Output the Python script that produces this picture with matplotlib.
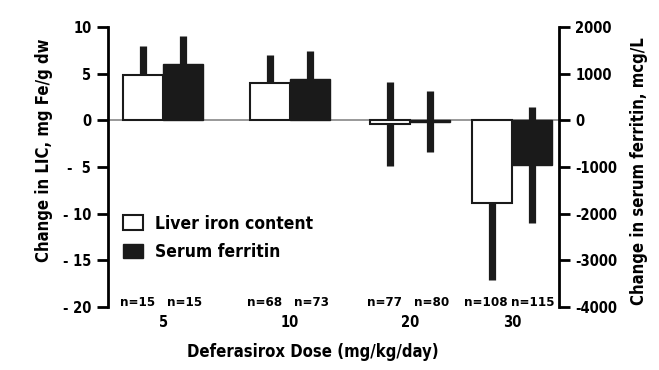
import matplotlib
matplotlib.use('Agg')
import matplotlib.pyplot as plt
from matplotlib.patches import Patch

plt.rcParams['font.family'] = ['DejaVu Sans']
plt.rcParams['font.stretch'] = 'condensed'
plt.rcParams['font.weight'] = 'bold'
plt.rcParams['axes.labelweight'] = 'bold'

# data
doses = ['5', '10', '20', '30']
n_lic = [15, 68, 77, 108]
n_sf = [15, 73, 80, 115]
lic_mean = [4.9, 4.0, -0.4, -8.9]
lic_sd = [3.1, 3.0, 4.5, 8.2]
sf_mean = [1210, 880, -30, -960]
sf_sd = [600, 600, 650, 1250]

left_ticks = [10, 5, 0, -5, -10, -15, -20]
left_ticklabels = ['10', '5', '0', '-  5', '- 10', '- 15', '- 20']
right_ticks = [2000, 1000, 0, -1000, -2000, -3000, -4000]
right_ticklabels = ['2000', '1000', '0', '-1000', '-2000', '-3000', '-4000']

# group centres are not evenly spaced in the original
centers = [0, 1, 1.95, 2.75]
w = 0.316
x_lic = [c - w / 2 for c in centers]
x_sf = [c + w / 2 for c in centers]

fig = plt.figure(figsize=(6.59, 3.70), dpi=100)
ax = fig.add_axes([0.1639, 0.1703, 0.6839, 0.7568])
ax2 = ax.twinx()

ax.set_xlim(-0.436, 3.12)
ax.set_ylim(-20, 10)
ax2.set_ylim(-4000, 2000)

ax.axhline(0, color='#888888', lw=1.2, zorder=1)

ax.errorbar(x_lic, lic_mean, yerr=lic_sd, fmt='none', ecolor='#1a1a1a',
            elinewidth=5.2, capsize=0, zorder=2)
ax.bar(x_lic, lic_mean, w, color='white', edgecolor='#1a1a1a', lw=1.5, zorder=3)

ax2.errorbar(x_sf, sf_mean, yerr=sf_sd, fmt='none', ecolor='#1a1a1a',
             elinewidth=5.2, capsize=0, zorder=2)
ax2.bar(x_sf, sf_mean, w, color='#1a1a1a', edgecolor='#1a1a1a', lw=1.0, zorder=3)

for s in ['top', 'bottom', 'right']:
    ax.spines[s].set_visible(False)
for s in ['top', 'bottom', 'left']:
    ax2.spines[s].set_visible(False)
ax.spines['left'].set_linewidth(2)
ax2.spines['right'].set_linewidth(2)
ax.spines['left'].set_bounds(-20, 10)
ax2.spines['right'].set_bounds(-4000, 2000)

ax.set_yticks(left_ticks)
ax.set_yticklabels(left_ticklabels)
ax2.set_yticks(right_ticks)
ax2.set_yticklabels(right_ticklabels)
ax.tick_params(axis='y', length=8, width=2, labelsize=10.5, pad=4)
ax2.tick_params(axis='y', length=8, width=2, labelsize=10.5, pad=4)

ax.set_xticks(centers)
ax.set_xticklabels(doses)
ax.tick_params(axis='x', length=0, labelsize=10.5, pad=6)

for i in range(len(doses)):
    ax.text(x_lic[i] - 0.045, -19.55, f'n={n_lic[i]}', ha='center', va='center', fontsize=9.5)
    ax.text(x_sf[i] + 0.01, -19.55, f'n={n_sf[i]}', ha='center', va='center', fontsize=9.5)

ax.set_xlabel('Deferasirox Dose (mg/kg/day)', fontsize=12)
ax.xaxis.set_label_coords(0.455, -0.13)
ax.set_ylabel('Change in LIC, mg Fe/g dw', fontsize=12)
ax.yaxis.set_label_coords(-0.122, 0.56)
ax2.set_ylabel('Change in serum ferritin, mcg/L', fontsize=12)
ax2.yaxis.set_label_coords(1.158, 0.486)

handles = [Patch(facecolor='white', edgecolor='#1a1a1a', lw=1.5, label='Liver iron content'),
           Patch(facecolor='#1a1a1a', edgecolor='#1a1a1a', label='Serum ferritin')]
ax2.legend(handles=handles, loc='upper left', bbox_to_anchor=(0.033, 0.33),
           frameon=False, fontsize=12.5, handlelength=1.15, handleheight=0.9,
           handletextpad=0.7, labelspacing=0.6, borderaxespad=0, borderpad=0)

fig.savefig('out.png', dpi=100)
